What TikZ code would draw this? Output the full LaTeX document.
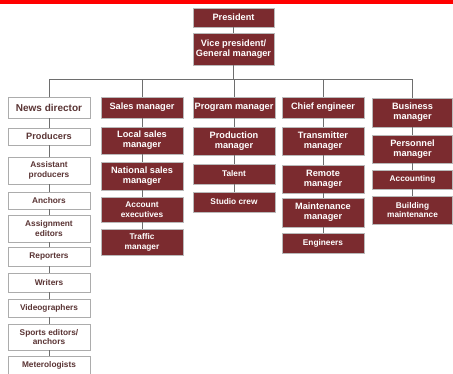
\documentclass[tikz,border=0pt]{standalone}
\usepackage{fontspec}
\setmainfont{Liberation Sans}
\definecolor{boxred}{HTML}{7B2B2F}
\definecolor{textred}{HTML}{5A3434}
\definecolor{linegray}{HTML}{6E6E6E}
\begin{document}
\begin{tikzpicture}[x=1pt,y=-1pt,
    big/.style={font=\fontsize{9.2}{10}\selectfont\bfseries},
    small/.style={font=\fontsize{8.3}{9.8}\selectfont\bfseries},
    mgr/.style={draw=gray!55,line width=0.6pt,fill=boxred,text=white,align=center,
      inner sep=1pt,minimum width=82pt},
    staff/.style={draw=gray!65,line width=0.8pt,fill=white,text=textred,align=center,
      inner sep=1pt,minimum width=82pt},
    link/.style={draw=linegray,line width=1pt}]
    \useasboundingbox (0,0) rectangle (453,373);
    % red strip along the top
    \fill[red] (0,0) rectangle (453,3.5);

    % Top of the chart
    \node[mgr,big,minimum width=81pt,minimum height=19pt] (pres) at (233.5,17.5) {President};
    \node[mgr,big,minimum width=81pt,minimum height=32pt] (vp) at (233.5,49) {Vice president/\\General manager};

    % News (white boxes)
    \node[staff,minimum height=21pt,font=\fontsize{10}{11}\selectfont\bfseries] (news) at (49,107.5) {News director};
    \node[staff,big,minimum height=17pt] (prod) at (49,136.5) {Producers};
    \node[staff,small,minimum height=27pt] (asst) at (49,170.5) {Assistant\\producers};
    \node[staff,small,minimum height=17pt] (anch) at (49,200.5) {Anchors};
    \node[staff,small,minimum height=27pt] (assign) at (49,228.5) {Assignment\\editors};
    \node[staff,small,minimum height=19pt] (rep) at (49,256.5) {Reporters};
    \node[staff,small,minimum height=19pt] (wri) at (49,282.5) {Writers};
    \node[staff,small,minimum height=18pt] (vid) at (49,308) {Videographers};
    \node[staff,small,minimum height=26pt] (sport) at (49,337) {Sports editors/\\anchors};
    \node[staff,small,minimum height=26pt,text depth=10pt] (met) at (49,369) {Meterologists};

    % Sales
    \node[mgr,big,minimum height=21pt] (sales) at (142,107.5) {Sales manager};
    \node[mgr,big,minimum height=27pt] (local) at (142,140.5) {Local sales\\manager};
    \node[mgr,big,minimum height=28pt] (natl) at (142,176) {National sales\\manager};
    \node[mgr,small,minimum height=25pt] (acct) at (142,209.5) {Account\\executives};
    \node[mgr,small,minimum height=26pt] (traf) at (142,242) {Traffic\\manager};

    % Programming
    \node[mgr,big,minimum height=21pt] (prog) at (234,107.5) {Program manager};
    \node[mgr,big,minimum height=28pt] (prodm) at (234,141) {Production\\manager};
    \node[mgr,small,minimum height=20pt] (tal) at (234,174) {Talent};
    \node[mgr,small,minimum height=20pt] (crew) at (234,202) {Studio crew};

    % Engineering
    \node[mgr,big,minimum height=21pt] (chief) at (323,107.5) {Chief engineer};
    \node[mgr,big,minimum height=28pt] (trans) at (323,141) {Transmitter\\manager};
    \node[mgr,big,minimum height=28pt] (remote) at (323,179) {Remote\\manager};
    \node[mgr,big,minimum height=29pt] (maint) at (323,212.5) {Maintenance\\manager};
    \node[mgr,small,minimum height=20pt] (eng) at (323,243) {Engineers};

    % Business
    \node[mgr,big,minimum width=80pt,minimum height=29pt] (bus) at (412.5,112.5) {Business\\manager};
    \node[mgr,big,minimum width=80pt,minimum height=28pt] (pers) at (412.5,149) {Personnel\\manager};
    \node[mgr,small,minimum width=80pt,minimum height=19pt] (acctg) at (412.5,179.5) {Accounting};
    \node[mgr,small,minimum width=80pt,minimum height=28pt] (bldg) at (412.5,210) {Building\\maintenance};

    % Connectors
    \draw[link] (pres) -- (vp);
    \foreach \h in {news,sales,prog,chief,bus}
      \draw[link] (vp.south) -- ++(0,14) -| (\h.north);
    \foreach \a/\b in {news/prod,prod/asst,asst/anch,anch/assign,assign/rep,rep/wri,wri/vid,vid/sport,sport/met,
                       sales/local,local/natl,natl/acct,acct/traf,
                       prog/prodm,prodm/tal,tal/crew,
                       chief/trans,trans/remote,remote/maint,maint/eng,
                       bus/pers,pers/acctg,acctg/bldg}
      \draw[link] (\a) -- (\b);
  \end{tikzpicture}
\end{document}
